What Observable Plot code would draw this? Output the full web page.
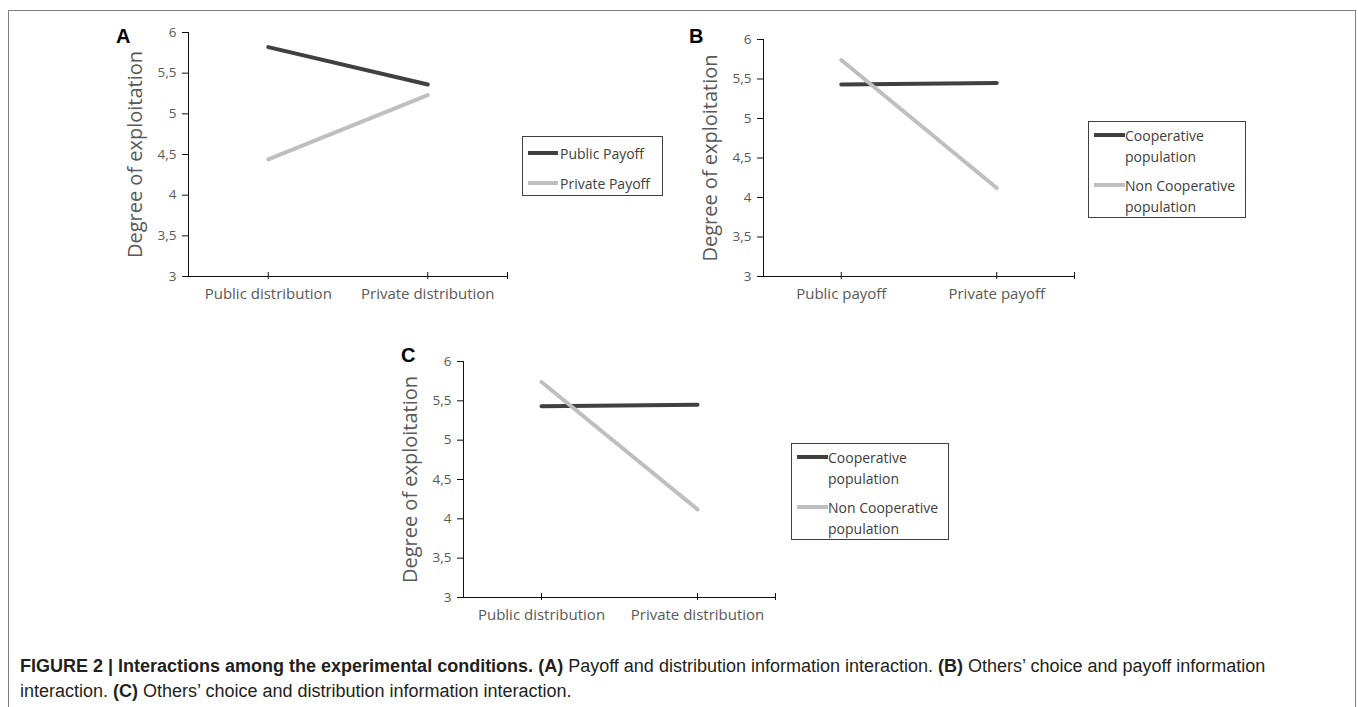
<!DOCTYPE html>
<html><head><meta charset="utf-8">
<script src="https://cdn.jsdelivr.net/npm/d3@7"></script>
<script src="https://cdn.jsdelivr.net/npm/@observablehq/plot@0.6"></script>
<style>
body{margin:0;background:#fff;}
#fig{position:relative;width:1358px;height:707px;overflow:hidden;font-family:"Open Sans",sans-serif;background:#fff;}
#border{position:absolute;left:8px;top:10px;width:1346px;height:740px;border:1.5px solid #7f7f7f;border-bottom:none;}
.plabel{position:absolute;font:bold 20px "Liberation Sans",Arial,sans-serif;color:#000;line-height:20px;}
.legend{position:absolute;border:1px solid #404040;background:#fff;box-sizing:border-box;}
.legend .sw{position:absolute;height:4px;}
.legend .lt{position:absolute;font:14px "Open Sans",sans-serif;color:#404040;line-height:21px;white-space:nowrap;}
.caption{position:absolute;left:20px;font:18px "Liberation Sans",Arial,sans-serif;color:#231f20;line-height:25px;white-space:nowrap;}
.plot{position:absolute;}
</style></head>
<body><div id="fig"><div id="border"></div></div>
<script>
// ---- data ----
const yTicks = [3, 3.5, 4, 4.5, 5, 5.5, 6];
const catsA = ["Public distribution", "Private distribution"];
const catsB = ["Public payoff", "Private payoff"];
const catsC = ["Public distribution", "Private distribution"];
const seriesA = ["Public Payoff", "Private Payoff"];
const seriesBC = ["Cooperative population", "Non Cooperative population"];
const publicPayoffA = [5.82, 5.36];
const privatePayoffA = [4.44, 5.23];
const coopB = [5.43, 5.45];
const nonCoopB = [5.74, 4.12];
const coopC = [5.43, 5.45];
const nonCoopC = [5.74, 4.12];
const yLabel = "Degree of exploitation";
const seriesColors = ["#404040", "#bfbfbf"];

const fig = document.getElementById("fig");

function panel(cats, series, values, frame) {
  const data = [];
  series.forEach((s, si) => cats.forEach((c, ci) => data.push({series: s, cat: c, pos: ci + 0.5, value: values[si][ci]})));
  const mL = 110, mT = 10, mR = 20, mB = 40;
  const w = frame.right - frame.left, h = frame.bottom - frame.top;
  const svg = Plot.plot({
    width: w + mL + mR, height: h + mT + mB,
    marginLeft: mL, marginTop: mT, marginRight: mR, marginBottom: mB,
    style: {fontFamily: '"Open Sans",sans-serif', background: "transparent", color: "#595959", overflow: "visible"},
    x: {domain: [0, cats.length], axis: null},
    y: {domain: [3, 6], axis: null},
    color: {domain: series, range: seriesColors},
    marks: [
      Plot.axisX({ticks: cats.map((c, i) => i + 0.5), tickFormat: v => cats[Math.round(v - 0.5)], tickSize: 0, tickPadding: 12, fontSize: 15, label: null}),
      Plot.axisY({ticks: yTicks, tickFormat: v => String(v).replace(".", ","), tickSize: 6, tickPadding: 6, fontSize: 13.5, stroke: "#111", label: null}),
      Plot.ruleY([3], {stroke: "#111"}),
      Plot.ruleX([0], {stroke: "#111"}),
      Plot.ruleX([...cats.map((c, i) => i + 0.5), cats.length], {y1: 3, y2: 3, insetTop: -4, insetBottom: -3, stroke: "#111"}),
      Plot.line(data, {x: "pos", y: "value", z: "series", stroke: "series", strokeWidth: 4}),
      Plot.text([yLabel], {frameAnchor: "left", textAnchor: "middle", lineAnchor: "middle", rotate: -90, dx: -53, fontSize: 20, fill: "#595959"})
    ]
  });
  svg.classList.add("plot");
  svg.style.left = (frame.left - mL) + "px";
  svg.style.top = (frame.top - mT) + "px";
  fig.appendChild(svg);
}

function legend(series, box, rows) {
  const d = document.createElement("div");
  d.className = "legend";
  Object.assign(d.style, {left: box.left + "px", top: box.top + "px", width: box.width + "px", height: box.height + "px"});
  series.forEach((s, i) => {
    const sw = document.createElement("div");
    sw.className = "sw";
    Object.assign(sw.style, {left: box.swX + "px", width: box.swW + "px", top: (rows[i] - 2) + "px", background: seriesColors[i]});
    d.appendChild(sw);
    const t = document.createElement("div");
    t.className = "lt";
    t.style.left = box.textX + "px";
    t.style.top = (rows[i] - 10.5) + "px";
    const words = s.split(" ");
    const last = words.pop();
    t.innerHTML = box.wrap ? words.join(" ") + "<br>" + last : s;
    d.appendChild(t);
  });
  fig.appendChild(d);
}

function label(txt, left, top) {
  const d = document.createElement("div");
  d.className = "plabel"; d.textContent = txt;
  d.style.left = left + "px"; d.style.top = top + "px";
  fig.appendChild(d);
}

panel(catsA, seriesA, [publicPayoffA, privatePayoffA], {left: 188, right: 507, top: 32, bottom: 276});
panel(catsB, seriesBC, [coopB, nonCoopB], {left: 763, right: 1074, top: 39, bottom: 276});
panel(catsC, seriesBC, [coopC, nonCoopC], {left: 463, right: 775, top: 361, bottom: 597});

legend(seriesA, {left: 522, top: 136, width: 141, height: 60, swX: 5, swW: 30, textX: 37, wrap: false}, [16, 46]);
legend(seriesBC, {left: 1088, top: 121, width: 158, height: 97, swX: 5, swW: 31, textX: 36, wrap: true}, [13, 63]);
legend(seriesBC, {left: 791, top: 443, width: 158, height: 97, swX: 5, swW: 31, textX: 36, wrap: true}, [13, 63]);

label("A", 116, 26);
label("B", 689, 26);
label("C", 401, 345);

const c1 = document.createElement("div");
c1.className = "caption"; c1.style.top = "654px";
c1.innerHTML = "<b>FIGURE 2 | Interactions among the experimental conditions.</b> <b>(A)</b> Payoff and distribution information interaction. <b>(B)</b> Others’ choice and payoff information";
fig.appendChild(c1);
const c2 = document.createElement("div");
c2.className = "caption"; c2.style.top = "679px";
c2.innerHTML = "interaction. <b>(C)</b> Others’ choice and distribution information interaction.";
fig.appendChild(c2);
</script>
</body></html>
